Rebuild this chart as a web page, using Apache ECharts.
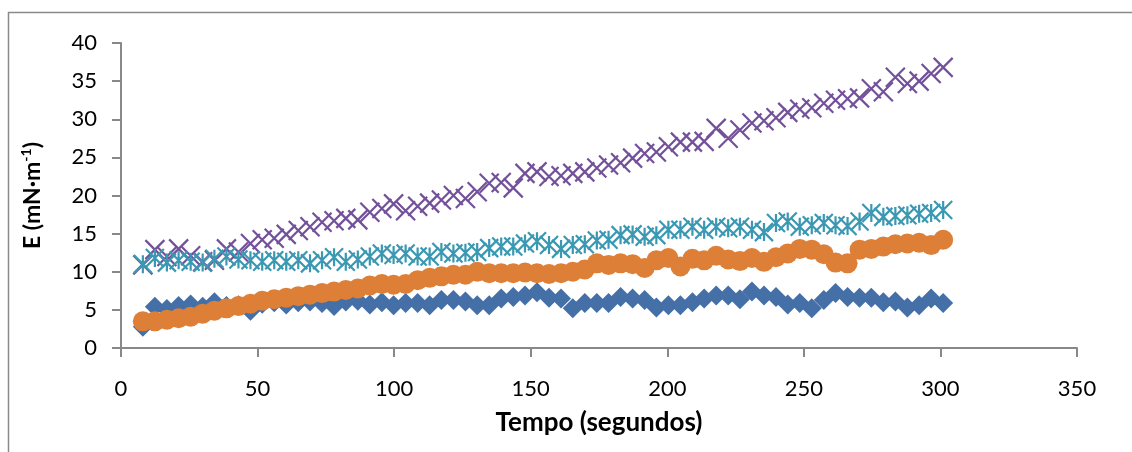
<!DOCTYPE html>
<html>
<head>
<meta charset="utf-8">
<script src="https://cdn.jsdelivr.net/npm/echarts@6/dist/echarts.min.js"></script>
<style>
  html, body { margin: 0; padding: 0; background: #ffffff; }
  #chart { width: 1132px; height: 452px; }
</style>
</head>
<body>
<div id="chart"></div>
<script>
// Sampling times (s), shared by all four measurement series
const tempo = [
  8, 12.4, 16.8, 21.1, 25.5, 29.9, 34.2, 38.6, 43, 47.4,
  51.7, 56.1, 60.5, 64.9, 69.2, 73.6, 78, 82.3, 86.7, 91.1,
  95.5, 99.8, 104.2, 108.6, 113, 117.3, 121.7, 126.1, 130.4, 134.8,
  139.2, 143.6, 147.9, 152.3, 156.7, 161.1, 165.4, 169.8, 174.2, 178.5,
  182.9, 187.3, 191.7, 196, 200.4, 204.8, 209.2, 213.5, 217.9, 222.3,
  226.6, 231, 235.4, 239.8, 244.1, 248.5, 252.9, 257.3, 261.6, 266,
  270.4, 274.7, 279.1, 283.5, 287.9, 292.2, 296.6, 301
];

// Elasticity E (mN·m-1), one array per series
const serieAzul = [
  2.8, 5.4, 5.1, 5.5, 5.7, 5.4, 6.0, 5.5, 5.6, 4.9,
  5.8, 6.0, 5.7, 6.0, 6.1, 5.9, 5.5, 6.1, 6.2, 5.7,
  6.0, 5.6, 5.9, 5.9, 5.6, 6.3, 6.3, 6.1, 5.6, 5.6,
  6.5, 6.7, 6.9, 7.3, 6.6, 6.5, 5.2, 5.9, 5.9, 5.9,
  6.7, 6.5, 6.3, 5.3, 5.6, 5.6, 6.0, 6.5, 6.9, 6.9,
  6.4, 7.4, 6.9, 6.7, 5.7, 5.9, 5.2, 6.3, 7.2, 6.7,
  6.6, 6.6, 6.0, 6.1, 5.3, 5.6, 6.5, 5.9
];
const serieLaranja = [
  3.5, 3.5, 3.7, 3.9, 4.1, 4.5, 4.9, 5.2, 5.5, 5.8,
  6.2, 6.4, 6.6, 6.8, 7.0, 7.2, 7.4, 7.6, 7.8, 8.2,
  8.4, 8.3, 8.4, 8.9, 9.2, 9.4, 9.6, 9.6, 10.0, 9.8,
  9.8, 9.8, 9.9, 9.8, 9.7, 9.8, 10.0, 10.3, 11.1, 10.9,
  11.1, 11.0, 10.5, 11.5, 11.8, 10.7, 11.7, 11.5, 12.1, 11.6,
  11.4, 11.8, 11.3, 11.9, 12.4, 13.0, 12.9, 12.3, 11.2, 11.1,
  12.9, 13.0, 13.3, 13.6, 13.7, 13.8, 13.5, 14.2
];
const serieRoxa = [
  10.9, 12.9, 12.0, 13.0, 12.1, 11.3, 11.5, 13.0, 12.6, 13.7,
  14.2, 14.4, 14.9, 15.4, 15.9, 16.5, 16.7, 17.0, 16.8, 17.8,
  18.3, 18.9, 18.0, 18.6, 19.0, 19.4, 20.0, 19.6, 20.5, 21.6,
  21.7, 21.0, 22.9, 23.1, 22.5, 22.6, 22.9, 23.1, 23.6, 24.0,
  24.3, 24.9, 25.5, 25.7, 26.4, 27.0, 27.0, 27.1, 28.8, 27.5,
  28.6, 29.5, 29.8, 30.2, 30.9, 31.3, 31.5, 32.1, 32.5, 32.7,
  32.8, 34.0, 33.6, 35.5, 34.7, 35.0, 36.0, 36.8
];
const serieCiano = [
  11.0, 11.8, 11.2, 11.5, 11.3, 11.2, 11.7, 12.0, 11.6, 11.5,
  11.3, 11.5, 11.3, 11.5, 11.1, 11.5, 11.9, 11.3, 11.6, 12.0,
  12.4, 12.2, 12.4, 12.0, 12.0, 12.6, 12.4, 12.5, 12.6, 13.1,
  13.3, 13.3, 13.7, 14.0, 13.5, 13.0, 13.5, 13.6, 14.1, 14.2,
  14.8, 14.9, 14.6, 14.8, 15.5, 15.5, 15.9, 15.5, 15.9, 15.7,
  15.9, 15.5, 15.2, 16.4, 16.6, 15.9, 16.1, 16.4, 16.1, 16.0,
  16.6, 17.7, 17.2, 17.3, 17.4, 17.6, 17.7, 18.1
];

// Axis tick settings
const xTicks = { min: 0, max: 350, interval: 50 };
const yTicks = { min: 0, max: 40, interval: 5 };

const pares = (vals) => tempo.map((t, i) => [t, vals[i]]);

const FONT = 'Lato, "Open Sans", sans-serif';
const AXIS_GRAY = '#888888';

const chart = echarts.init(document.getElementById('chart'), null, { renderer: 'canvas' });

const symX = 'path://M0,0L20,20M20,0L0,20';
const symAst = 'path://M0,0L20,20M20,0L0,20M10,0L10,20';

chart.setOption({
  animation: false,
  backgroundColor: '#ffffff',
  graphic: [{
    type: 'rect',
    shape: { x: 8.5, y: 12.5, width: 1300, height: 600 },
    style: { fill: 'none', stroke: '#8a8a8a', lineWidth: 1.5 },
    silent: true,
    z: 0
  }],
  grid: { left: 121, right: 55, top: 43, bottom: 104, containLabel: false },
  xAxis: {
    type: 'value',
    min: xTicks.min, max: xTicks.max, interval: xTicks.interval,
    name: 'Tempo (segundos)',
    nameLocation: 'middle',
    nameGap: 62,
    nameTextStyle: { fontFamily: FONT, fontWeight: 'bold', fontSize: 26, color: '#000' },
    axisLine: { show: true, onZero: false, lineStyle: { color: AXIS_GRAY, width: 2 } },
    axisTick: { show: true, inside: false, length: 9, lineStyle: { color: AXIS_GRAY, width: 2 } },
    axisLabel: { fontFamily: FONT, fontSize: 22, color: '#000', margin: 30 },
    splitLine: { show: false }
  },
  yAxis: {
    type: 'value',
    min: yTicks.min, max: yTicks.max, interval: yTicks.interval,
    name: '{b|E (mN·m}{s|-1}{b|)}',
    nameLocation: 'middle',
    nameGap: 74,
    nameRotate: 90,
    nameTextStyle: {
      color: '#000',
      rich: {
        b: { fontFamily: FONT, fontWeight: 'bold', fontSize: 23, color: '#000', lineHeight: 28 },
        s: { fontFamily: FONT, fontWeight: 'bold', fontSize: 14, color: '#000', verticalAlign: 'top', lineHeight: 28 }
      }
    },
    axisLine: { show: true, onZero: false, lineStyle: { color: AXIS_GRAY, width: 2 } },
    axisTick: { show: true, inside: false, length: 9, lineStyle: { color: AXIS_GRAY, width: 2 } },
    axisLabel: { fontFamily: FONT, fontSize: 22, color: '#000', margin: 24 },
    splitLine: { show: false }
  },
  series: [
    {
      name: 'Série 1', type: 'scatter', data: pares(serieAzul),
      symbol: 'diamond', symbolSize: 20,
      itemStyle: { color: '#4470A7', opacity: 1 }
    },
    {
      name: 'Série 2', type: 'scatter', data: pares(serieLaranja),
      symbol: 'circle', symbolSize: 20,
      itemStyle: { color: '#DE7F37', opacity: 1 }
    },
    {
      name: 'Série 3', type: 'scatter', data: pares(serieRoxa),
      symbol: symX, symbolSize: 19,
      itemStyle: { color: 'rgba(0,0,0,0)', borderColor: '#73519A', borderWidth: 2.2, opacity: 1 }
    },
    {
      name: 'Série 4', type: 'scatter', data: pares(serieCiano),
      symbol: symAst, symbolSize: 18,
      itemStyle: { color: 'rgba(0,0,0,0)', borderColor: '#3A98B2', borderWidth: 2.2, opacity: 1 }
    }
  ]
});
</script>
</body>
</html>
